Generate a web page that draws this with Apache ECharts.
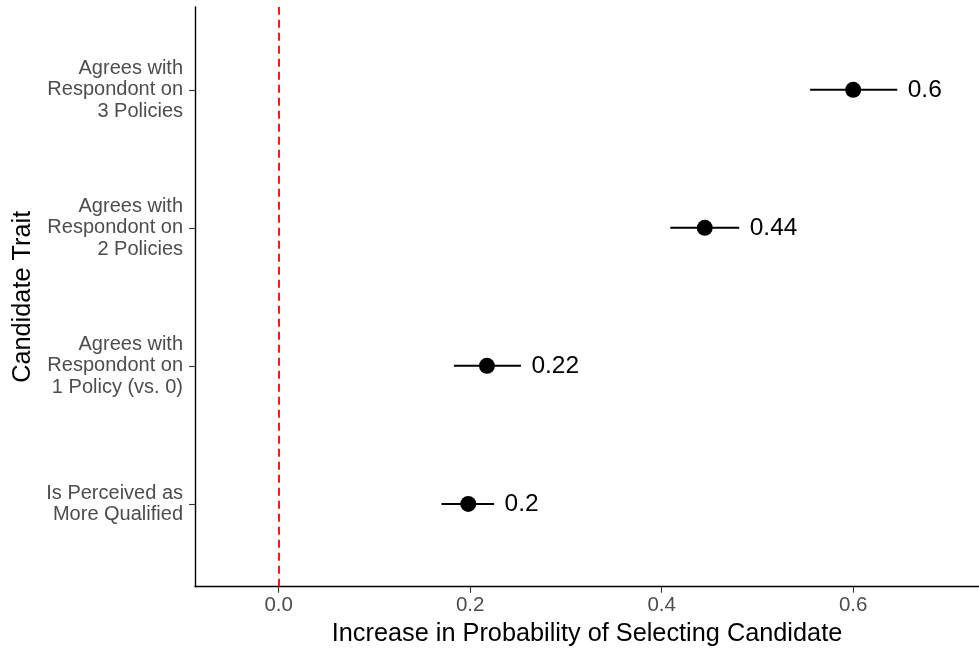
<!DOCTYPE html>
<html><head><meta charset="utf-8">
<script src="https://cdn.jsdelivr.net/npm/echarts@6/dist/echarts.min.js"></script>
<style>html,body{margin:0;padding:0;background:#fff}#c{width:979px;height:651px}</style>
</head><body><div id="c"></div>
<script>
const categories = ["Is Perceived as\nMore Qualified", "Agrees with\nRespondont on\n1 Policy (vs. 0)", "Agrees with\nRespondont on\n2 Policies", "Agrees with\nRespondont on\n3 Policies"];
const estimates = [0.198, 0.2175, 0.445, 0.600];
const lower = [0.170, 0.183, 0.409, 0.555];
const upper = [0.225, 0.253, 0.481, 0.646];
const valueLabels = ["0.2", "0.22", "0.44", "0.6"];
const xTicks = [0, 0.2, 0.4, 0.6];

const data = categories.map((c, i) => [estimates[i], lower[i], upper[i], i + 1, valueLabels[i]]);
const chart = echarts.init(document.getElementById('c'), null, {renderer: 'canvas'});
const font = '"Liberation Sans", Arial, sans-serif';
chart.setOption({
  animation: false,
  grid: {left: 195, right: 0, top: 7, bottom: 64.3, containLabel: false, outerBoundsMode: 'none'},
  xAxis: {
    type: 'value', min: -0.0874, max: 0.7314,
    name: 'Increase in Probability of Selecting Candidate',
    nameLocation: 'middle', nameGap: 35,
    nameTextStyle: {fontSize: 25.3, color: '#000', fontFamily: font},
    axisLine: {show: true, onZero: false, lineStyle: {color: '#000', width: 1.4}},
    axisTick: {show: true, length: 6, customValues: xTicks, lineStyle: {color: '#333', width: 1.1}},
    axisLabel: {customValues: xTicks, formatter: v => v.toFixed(1), fontSize: 20.5, color: '#4d4d4d', margin: 8.5, fontFamily: font},
    splitLine: {show: false}
  },
  yAxis: {
    type: 'value', min: 0.4, max: 4.6,
    name: 'Candidate Trait', nameLocation: 'middle', nameGap: 153, nameRotate: 90,
    nameTextStyle: {fontSize: 25.3, color: '#000', fontFamily: font},
    axisLine: {show: true, onZero: false, lineStyle: {color: '#000', width: 1.4}},
    axisTick: {show: true, length: 6, customValues: [1, 2, 3, 4], lineStyle: {color: '#333', width: 1.1}},
    axisLabel: {customValues: [1, 2, 3, 4], formatter: v => categories[Math.round(v) - 1] || '', fontSize: 20, lineHeight: 21.6, color: '#4d4d4d', margin: 12, align: 'right', fontFamily: font},
    splitLine: {show: false}
  },
  series: [{
    type: 'custom',
    data: data,
    renderItem: function (params, api) {
      const y = api.value(3);
      const pEst = api.coord([api.value(0), y]);
      const pLo = api.coord([api.value(1), y]);
      const pHi = api.coord([api.value(2), y]);
      return {type: 'group', children: [
        {type: 'line', shape: {x1: pLo[0], y1: pLo[1], x2: pHi[0], y2: pHi[1]}, style: {stroke: '#000', lineWidth: 2}},
        {type: 'circle', shape: {cx: pEst[0], cy: pEst[1], r: 8}, style: {fill: '#000'}},
        {type: 'text', x: pHi[0] + 10.5, y: pHi[1], style: {text: valueLabels[params.dataIndex], fill: '#000', fontSize: 24.5, fontFamily: font, verticalAlign: 'middle', align: 'left'}}
      ]};
    },
    markLine: {
      silent: true, symbol: 'none', label: {show: false},
      lineStyle: {color: '#ff0000', type: [8, 5], width: 1.8},
      data: [{xAxis: 0}]
    }
  }]
});
</script></body></html>
